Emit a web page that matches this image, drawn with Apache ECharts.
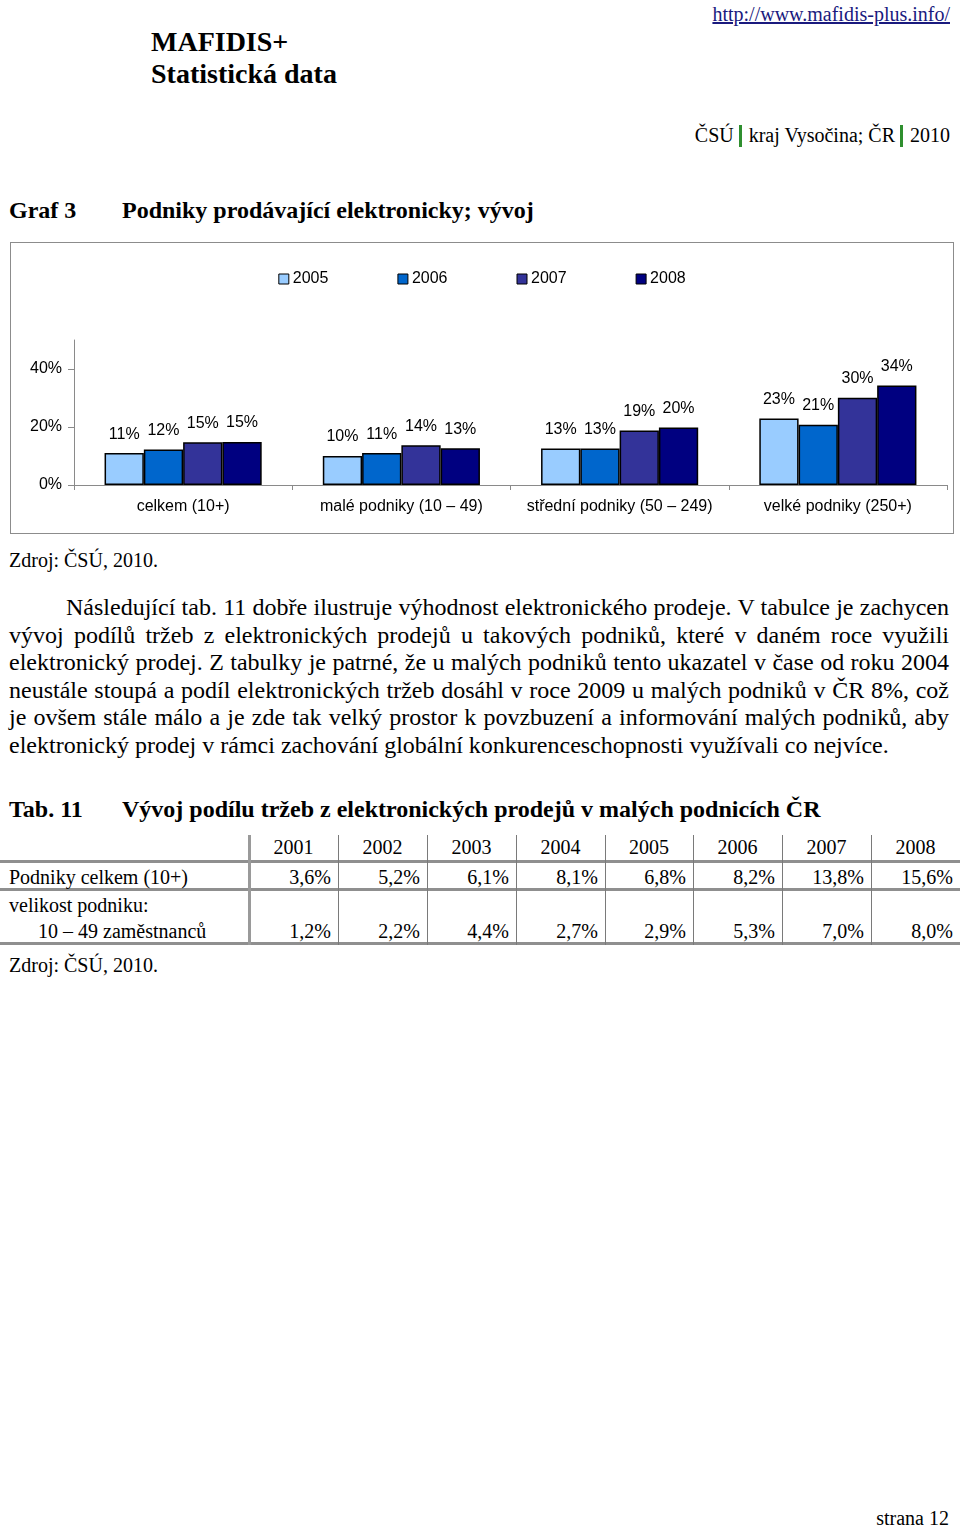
<!DOCTYPE html>
<html>
<head>
<meta charset="utf-8">
<script src="https://cdn.jsdelivr.net/npm/echarts@6/dist/echarts.min.js"></script>
<style>
  html, body { margin:0; padding:0; background:#fff; }
  #page { position:relative; width:960px; height:1529px; font-family:'Liberation Serif','Times New Roman',serif; color:#000; overflow:hidden; }
  .t { position:absolute; white-space:nowrap; }
  .b { font-weight:bold; }
  #chartBox { position:absolute; left:10px; top:242px; width:944px; height:292px; box-sizing:border-box; border:1px solid #8c8c8c; }
  #chart { width:942px; height:290px; }
  .gbar { display:inline-block; width:3px; height:22px; background:#2f8f2f; vertical-align:-5px; margin:0 7px 0 5px; }
  #para { position:absolute; left:9px; top:594px; width:940px; font-size:24px; line-height:27.6px; text-align:justify; text-indent:57px; }
  .hl { position:absolute; left:0; width:960px; height:3px; background:#8f8f8f; }
  .vl { position:absolute; top:835px; height:110px; width:1px; background:#7a7a7a; }
  .cell { position:absolute; font-size:20px; line-height:22px; white-space:nowrap; }
</style>
</head>
<body>
<div id="page">
  <div class="t" style="right:10px;top:3px;font-size:20px;line-height:22px;color:#1a1a7e;text-decoration:underline;">http://www.mafidis-plus.info/</div>
  <div class="t b" style="left:151px;top:26px;font-size:28px;line-height:32px;">MAFIDIS+</div>
  <div class="t b" style="left:151px;top:58px;font-size:28px;line-height:32px;">Statistická data</div>
  <div class="t" style="right:10px;top:124px;font-size:20px;line-height:22px;">ČSÚ<span class="gbar"></span>kraj Vysočina; ČR<span class="gbar"></span>2010</div>
  <div class="t b" style="left:9px;top:196px;font-size:24px;line-height:28px;">Graf 3</div>
  <div class="t b" style="left:122px;top:196px;font-size:24px;line-height:28px;">Podniky prodávající elektronicky; vývoj</div>
  <div id="chartBox"><div id="chart"></div></div>
  <div class="t" style="left:9px;top:549px;font-size:20px;line-height:22px;">Zdroj: ČSÚ, 2010.</div>
  <div id="para">Následující tab. 11 dobře ilustruje výhodnost elektronického prodeje. V tabulce je zachycen vývoj podílů tržeb z&nbsp;elektronických prodejů u takových podniků, které v&nbsp;daném roce využili elektronický prodej. Z tabulky je patrné, že u malých podniků tento ukazatel v čase od roku 2004 neustále stoupá a podíl elektronických tržeb dosáhl v roce 2009 u malých podniků v ČR 8%, což je ovšem stále málo a je zde tak velký prostor k povzbuzení a informování malých podniků, aby elektronický prodej v rámci zachování globální konkurenceschopnosti využívali co nejvíce.</div>
  <div class="t b" style="left:9px;top:795px;font-size:24px;line-height:28px;">Tab. 11</div>
  <div class="t b" style="left:122px;top:795px;font-size:24px;line-height:28px;">Vývoj podílu tržeb z elektronických prodejů v malých podnicích ČR</div>
  <div id="table"></div>
  <div class="t" style="left:9px;top:954px;font-size:20px;line-height:22px;">Zdroj: ČSÚ, 2010.</div>
  <div class="t" style="right:11px;top:1507px;font-size:20px;line-height:22px;">strana 12</div>
</div>
<script>
// ---- chart data ----
var categories = ['celkem (10+)', 'malé podniky (10 – 49)', 'střední podniky (50 – 249)', 'velké podniky (250+)'];
var seriesNames = ['2005', '2006', '2007', '2008'];
var values2005 = [11.0, 10.0, 12.6, 22.9];
var values2006 = [12.2, 11.0, 12.6, 20.8];
var values2007 = [14.7, 13.7, 18.8, 30.1];
var values2008 = [14.8, 12.7, 19.8, 34.3];
var yTickValues = [0, 20, 40];

// ---- table data ----
var tableYears = ['2001', '2002', '2003', '2004', '2005', '2006', '2007', '2008'];
var rowCelkemLabel = 'Podniky celkem (10+)';
var rowCelkem = [3.6, 5.2, 6.1, 8.1, 6.8, 8.2, 13.8, 15.6];
var rowMaleLabel1 = 'velikost podniku:';
var rowMaleLabel2 = '10 – 49 zaměstnanců';
var rowMale = [1.2, 2.2, 4.4, 2.7, 2.9, 5.3, 7.0, 8.0];

// ---- build table ----
(function () {
  var t = document.getElementById('table');
  var xs = [249, 338, 427, 516, 605, 693, 782, 871, 960];
  function add(html) { t.insertAdjacentHTML('beforeend', html); }
  function fmt(v) { return v.toFixed(1).replace('.', ',') + '%'; }
  add('<div class="hl" style="top:860px"></div>');
  add('<div class="hl" style="top:888px"></div>');
  add('<div class="hl" style="top:942px"></div>');
  for (var i = 0; i < 8; i++) {
    var w = (i === 0) ? 3 : 1;
    add('<div class="vl" style="left:' + (xs[i] - (w > 1 ? 1 : 0)) + 'px;width:' + w + 'px;' + (i === 0 ? 'background:#9a9a9a;' : '') + '"></div>');
    var cw = xs[i + 1] - xs[i];
    add('<div class="cell" style="left:' + xs[i] + 'px;width:' + cw + 'px;top:836px;text-align:center;">' + tableYears[i] + '</div>');
    add('<div class="cell" style="left:' + xs[i] + 'px;width:' + (cw - 7) + 'px;top:866px;text-align:right;">' + fmt(rowCelkem[i]) + '</div>');
    add('<div class="cell" style="left:' + xs[i] + 'px;width:' + (cw - 7) + 'px;top:920px;text-align:right;">' + fmt(rowMale[i]) + '</div>');
  }
  add('<div class="cell" style="left:9px;top:866px;">' + rowCelkemLabel + '</div>');
  add('<div class="cell" style="left:9px;top:894px;">' + rowMaleLabel1 + '</div>');
  add('<div class="cell" style="left:38px;top:920px;">' + rowMaleLabel2 + '</div>');
})();

// ---- chart ----
var colors = ['#99CCFF', '#0066CC', '#333399', '#000080'];
var allValues = [values2005, values2006, values2007, values2008];
var font = "'Liberation Sans', Arial, sans-serif";
var chart = echarts.init(document.getElementById('chart'), null, { renderer: 'canvas' });
var series = seriesNames.map(function (name, i) {
  return {
    name: name,
    type: 'bar',
    data: allValues[i],
    barGap: '0%',
    barCategoryGap: '28%',
    itemStyle: { color: colors[i], borderColor: '#000', borderWidth: 1.5 },
    label: {
      show: true, position: 'top', distance: 11,
      fontFamily: font, fontSize: 16, color: '#000',
      formatter: function (p) { return Math.round(p.value) + '%'; }
    }
  };
});
chart.setOption({
  animation: false,
  backgroundColor: '#fff',
  color: colors,
  textStyle: { fontFamily: font },
  legend: {
    data: seriesNames,
    top: 23, left: 'center',
    itemWidth: 10, itemHeight: 10, itemGap: 69,
    icon: 'rect',
    itemStyle: { borderColor: '#000', borderWidth: 1 },
    textStyle: { fontFamily: font, fontSize: 16, color: '#000', padding: [0, 0, 0, -1] }
  },
  grid: { left: 63, right: 6, top: 97, bottom: 48, containLabel: false },
  xAxis: {
    type: 'category',
    data: categories,
    axisLine: { lineStyle: { color: '#8a8a8a', width: 1 } },
    axisTick: { show: true, length: 5, lineStyle: { color: '#8a8a8a' } },
    axisLabel: { fontFamily: font, fontSize: 16, color: '#000', margin: 14, interval: 0 }
  },
  yAxis: {
    type: 'value',
    min: 0, max: 50, interval: 20,
    splitLine: { show: false },
    axisLine: { show: true, lineStyle: { color: '#8a8a8a', width: 1 } },
    axisTick: { show: true, length: 6, lineStyle: { color: '#8a8a8a' }, customValues: yTickValues },
    axisLabel: { fontFamily: font, fontSize: 16, color: '#000', margin: 12, formatter: '{value}%', customValues: yTickValues }
  },
  series: series
});
</script>
</body>
</html>
